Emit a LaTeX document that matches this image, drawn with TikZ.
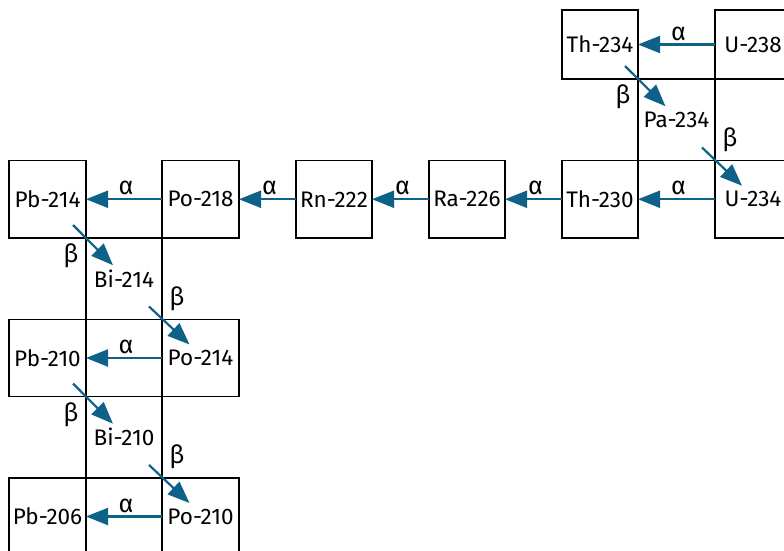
\documentclass[tikz,border=0pt]{standalone}
\usepackage{fontspec}
\setmainfont{Fira Sans}
\usetikzlibrary{arrows.meta}
\definecolor{arrowblue}{RGB}{14,98,138}
\begin{document}
\begin{tikzpicture}[x=1pt,y=-1pt,
  box/.style={draw=black, line width=1.8pt, rectangle, inner sep=0pt, outer sep=0pt, font=\fontsize{22.5}{24}\selectfont},
  decay/.style={draw=arrowblue, line width=2.2pt, -{Triangle[length=22pt,width=17pt]}},
  lab/.style={font=\fontsize{25}{27}\selectfont, inner sep=0pt}]
\useasboundingbox (0,0) rectangle (784,551);
\clip (0,0) rectangle (784,551);
% top right
\node[box, minimum width=76pt, minimum height=69pt] (Th234) at (600,44.5) {Th-234};
\node[box, minimum width=76pt, minimum height=69pt] (U238) at (753,44.5) {U-238};
\node[box, minimum width=77pt, minimum height=81.5pt] (Pa234) at (676.5,119.75) {Pa-234};
% row 2
\node[box, minimum width=76pt, minimum height=77.5pt] (U234) at (753,199.25) {U-234};
\node[box, minimum width=76pt, minimum height=77.5pt] (Th230) at (600,199.25) {Th-230};
\node[box, minimum width=76pt, minimum height=77.5pt] (Ra226) at (467,199.25) {Ra-226};
\node[box, minimum width=76pt, minimum height=77.5pt] (Rn222) at (334,199.25) {Rn-222};
\node[box, minimum width=77pt, minimum height=77.5pt] (Po218) at (200.5,199.25) {Po-218};
\node[box, minimum width=77pt, minimum height=77.5pt] (Pb214) at (47.5,199.25) {Pb-214};
% left column
\node[box, minimum width=76pt, minimum height=81.5pt] (Bi214) at (124,278.75) {Bi-214};
\node[box, minimum width=77pt, minimum height=77pt] (Pb210) at (47.5,358) {Pb-210};
\node[box, minimum width=77pt, minimum height=77pt] (Po214) at (200.5,358) {Po-214};
\node[box, minimum width=76pt, minimum height=81.5pt] (Bi210) at (124,437.25) {Bi-210};
\node[box, minimum width=77pt, minimum height=77pt] (Pb206) at (47.5,516.5) {Pb-206};
\node[box, minimum width=77pt, minimum height=77pt] (Po210) at (200.5,516.5) {Po-210};
% alpha decays
\foreach \a/\b in {U238/Th234, U234/Th230, Th230/Ra226, Ra226/Rn222, Rn222/Po218, Po218/Pb214, Po214/Pb210, Po210/Pb206}{
  \draw[decay] (\a.west) -- node[lab, pos=0.5, yshift=11pt, xshift=2pt] {α} (\b.east);
}
% beta decays
\foreach \a/\b/\sx/\sy in {Th234/Pa234/-15/18, Pb214/Bi214/-15/18, Pb210/Bi210/-15/18,
                           Pa234/U234/15/-21, Bi214/Po214/15/-21, Bi210/Po210/15/-21}{
  \draw[decay] ([shift={(-13,-13)}]\a.south east) -- ([shift={(-11,-13.5)}]\b.center);
  \node[lab] at ([shift={(\sx,\sy)}]\a.south east) {β};
}
\end{tikzpicture}
\end{document}
